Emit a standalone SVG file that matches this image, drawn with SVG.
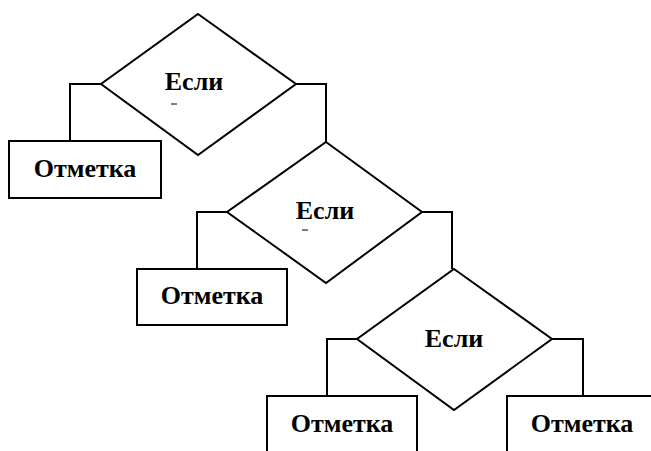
<svg xmlns="http://www.w3.org/2000/svg" width="651" height="451" viewBox="0 0 651 451">
<style>
.s{fill:#fff;stroke:#000;stroke-width:2}
.c{fill:none;stroke:#000;stroke-width:2}
.t{font-family:"Liberation Serif","Times New Roman",serif;font-weight:bold;font-size:26px;text-anchor:middle;fill:#000}
</style>
<rect width="651" height="451" fill="#fff"/>
<g id="connectors">
<polyline class="c" points="101,84 70,84 70,141"/>
<polyline class="c" points="296,84 326,84 326,142"/>
<polyline class="c" points="227,212 197,212 197,269"/>
<polyline class="c" points="422,212 452,212 452,269"/>
<polyline class="c" points="357,339 327,339 327,396"/>
<polyline class="c" points="552,339 583,339 583,396"/>
</g>
<g id="d1"><polygon class="s" points="198,14 296,84 198,155 101,84"/><text class="t" x="194" y="90">Если</text><line x1="171" y1="104" x2="177" y2="104" stroke="#000" stroke-width="1"/></g>
<g id="b1"><rect class="s" x="9" y="141" width="152" height="57"/><text class="t" x="85" y="177">Отметка</text></g>
<g id="d2"><polygon class="s" points="326,142 422,212 326,283 227,212"/><text class="t" x="325" y="219">Если</text><line x1="302" y1="230" x2="308" y2="230" stroke="#000" stroke-width="1"/></g>
<g id="b2"><rect class="s" x="137" y="269" width="150" height="56"/><text class="t" x="212" y="304">Отметка</text></g>
<g id="d3"><polygon class="s" points="454,269 552,339 454,410 357,339"/><text class="t" x="454" y="347">Если</text></g>
<g id="b3"><rect class="s" x="267" y="396" width="150" height="70"/><text class="t" x="342" y="432">Отметка</text></g>
<g id="b4"><rect class="s" x="507" y="396" width="160" height="70"/><text class="t" x="582" y="432">Отметка</text></g>
</svg>
